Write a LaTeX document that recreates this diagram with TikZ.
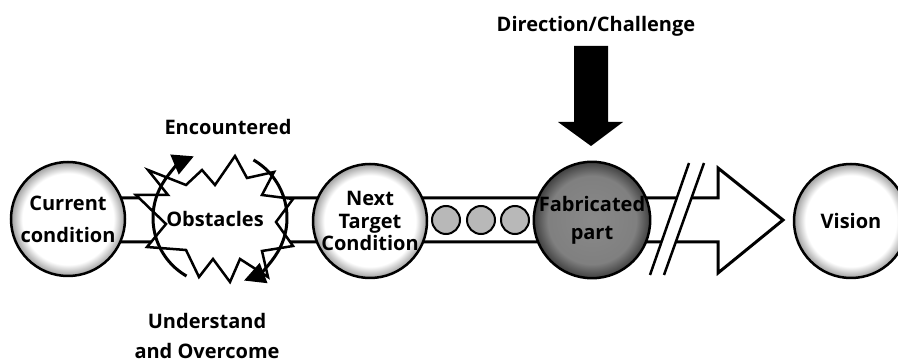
\documentclass[tikz,border=0pt]{standalone}
\usepackage{fontspec}
\setmainfont{Open Sans}
\usepackage{tikz}
\usetikzlibrary{shapes,arrows.meta,positioning}

\pgfdeclareradialshading{rim}{\pgfpoint{0cm}{0cm}}{color(0bp)=(white); color(20bp)=(white); color(25bp)=(black!38); color(50bp)=(black!38)}
\pgfdeclareradialshading{rimdark}{\pgfpoint{0cm}{0cm}}{color(0bp)=(black!46); color(19bp)=(black!50); color(25bp)=(black!75); color(50bp)=(black!75)}

\begin{document}
\begin{tikzpicture}[x=1pt,y=-1pt,
		stage/.style={circle, draw, line width=2.5pt, shade, shading=rim, minimum size=114pt, inner sep=0pt, align=center},
		txt/.style={font=\fontsize{20}{#1}\selectfont\bfseries},
		txt/.default=30,
		dot/.style={circle, draw, line width=2pt, fill=black!28, minimum size=28pt, inner sep=0pt},
		turnarrow/.style={line width=3pt, -{Triangle[length=21pt,width=21pt]}}]
	\useasboundingbox (0,0) rectangle (898,363);

	% main arrow
	\draw[line width=3pt, fill=white, line join=miter] (90,198) -- (718,198) -- (718,168) -- (783,220) -- (718,273) -- (718,242) -- (90,242);
	% break
	\fill[white] (650,275) -- (689,163) -- (704,163) -- (664,275) -- cycle;
	\draw[line width=2.5pt] (650,275) -- (689,163) (664,275) -- (704,163);

	\node[stage, txt=32] (current) at (68,219) {Current\\condition};
	\node[stage, txt=22.5] (target) at (370,221) {Next\\Target\\Condition};
	\node[stage, shading=rimdark, txt=28] (part) at (592,220) {Fabricated\\part};
	\node[stage, txt] (vision) at (851,221) {Vision};

	\foreach \x/\n in {446/a,481/b,515/c}
		\node[dot] (dot\n) at (\x,220) {};

	% obstacles
	\draw[line width=2.5pt, fill=white, line join=miter]
		(235,156) -- (247,178) -- (274,172) -- (262,195) -- (293,199) -- (276,222) -- (293,246) -- (262,251)
		-- (268,277) -- (240,259) -- (230,282) -- (213,259) -- (199,277) -- (186,250) -- (147,247) -- (166,224)
		-- (136,195) -- (168,195) -- (148,170) -- (186,185) -- (202,170) -- (215,185) -- cycle;
	\node[txt] (obstacles) at (215,219) {Obstacles};
	\coordinate (turn) at (220,218);
	\draw[turnarrow] (turn) ++(120:67) arc[start angle=120, end angle=247, radius=67];
	\draw[turnarrow] (turn) ++(-60:67) arc[start angle=-60, end angle=69, radius=67];

	\node[txt] (encountered) at (228,127) {Encountered};
	\node[txt, align=center] (overcome) at (207,336) {Understand\\and Overcome};
	\node[txt] (direction) at (596,26) {Direction/Challenge};

	% push from above
	\fill (574,46) -- (608,46) -- (608,122) -- (623,122) -- (591,146) -- (558,122) -- (574,122) -- cycle;
\end{tikzpicture}
\end{document}
